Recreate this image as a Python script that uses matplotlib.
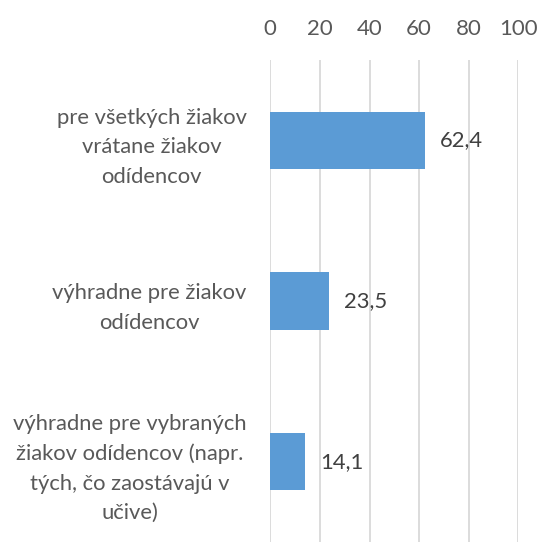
import matplotlib.pyplot as plt

categories = ['pre všetkých žiakov\nvrátane žiakov\nodídencov',
              'výhradne pre žiakov\nodídencov',
              'výhradne pre vybraných\nžiakov odídencov (napr.\ntých, čo zaostávajú v\nučive)']
values = [62.4, 23.5, 14.1]
ticks = [0, 20, 40, 60, 80, 100]

plt.rcParams['font.family'] = ['Lato', 'DejaVu Sans']

fig = plt.figure(figsize=(5.39, 5.42), dpi=100)
ax = fig.add_axes([270.3 / 539, 0, 248 / 539, 482 / 542])

pos = list(range(len(values)))
ax.barh(pos, values, height=0.355, color='#5b9bd5', zorder=3)
ax.set_ylim(len(values) - 0.5, -0.5)
ax.set_xlim(0, 100)

ax.xaxis.tick_top()
ax.set_xticks(ticks)
ax.set_xticklabels([str(t) for t in ticks])
ax.tick_params(axis='x', length=0, pad=15, labelsize=16, labelcolor='#595959')
ax.set_yticks(pos)
ax.set_yticklabels(categories, multialignment='center', linespacing=1.6)
ax.tick_params(axis='y', length=0, pad=17, labelsize=15.8, labelcolor='#595959')

ax.grid(axis='x', color='#d9d9d9', linewidth=1.3, zorder=0)
for s in ax.spines.values():
    s.set_visible(False)

for p, v in zip(pos, values):
    ax.annotate(f'{v:.1f}'.replace('.', ','), (v, p), xytext=(11, 0), textcoords='offset points',
                va='center', ha='left', fontsize=15.8, color='#404040')

fig.savefig('out.png', dpi=100)
